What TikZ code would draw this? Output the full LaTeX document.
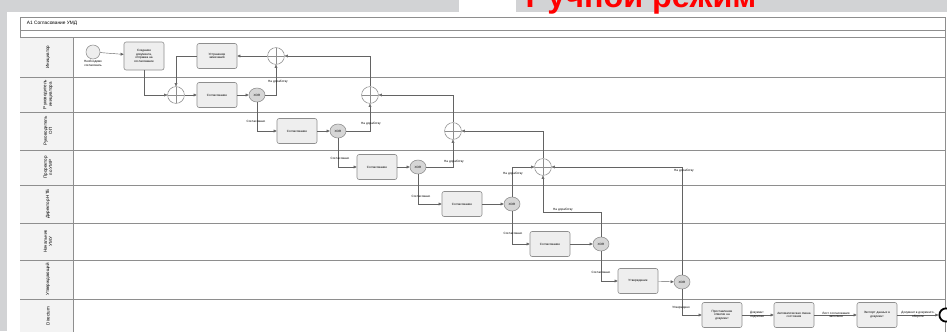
\documentclass[tikz,border=0pt]{standalone}
\usepackage{fontspec}
\setmainfont{Liberation Sans}
\usetikzlibrary{arrows.meta, positioning, shapes.geometric}
\definecolor{barGrey}{HTML}{D2D3D5}
\definecolor{lineGrey}{HTML}{8E8E8E}
\definecolor{laneGrey}{HTML}{F3F3F3}
\definecolor{taskFill}{HTML}{EEEEEE}
\definecolor{xorFill}{HTML}{D6D6D6}
\definecolor{slideRed}{HTML}{FF0000}

\tikzset{
  task/.style={rectangle, rounded corners=1.5pt, draw=lineGrey, fill=taskFill, minimum width=1cm, minimum height=0.625cm, text width=0.92cm, align=center, inner sep=0.5pt, font=\fontsize{2.2}{2.6}\selectfont},
  xorgate/.style={ellipse, draw=lineGrey, fill=xorFill, minimum width=0.4cm, minimum height=0.35cm, inner sep=0pt, font=\fontsize{2.2}{2.6}\selectfont},
  andgate/.style={circle, draw=lineGrey, fill=white, minimum size=0.42cm, inner sep=0pt,
    path picture={\draw[lineGrey] (path picture bounding box.north) -- (path picture bounding box.south)
      (path picture bounding box.west) -- (path picture bounding box.east);}},
  flow/.style={draw=lineGrey!70!black, line width=0.3pt, -{Triangle[length=2.2pt, width=2pt]}},
  lbl/.style={font=\fontsize{2.2}{2.6}\selectfont, inner sep=0.4pt, align=center},
  lanename/.style={rotate=90, font=\fontsize{3.2}{3.8}\selectfont, align=center}
}

\begin{document}
\begin{tikzpicture}[x=0.025cm, y=-0.025cm]
\useasboundingbox (0,0) rectangle (947,331);

% slide around the diagram
\fill[barGrey] (0,0) rectangle (459,12);
\fill[barGrey] (516,0) rectangle (947,12);
\fill[barGrey] (0,12) rectangle (7,331);
\node[font=\bfseries\fontsize{23}{23}\selectfont, text=slideRed, anchor=base, inner sep=0pt] (mode) at (641,7) {Ручной режим};

% pool frame and lanes
\draw[lineGrey, fill=white, line width=0.4pt] (20,17) rectangle (945,340);
\fill[laneGrey] (20,37) rectangle (73,340);
\draw[lineGrey, line width=0.4pt] (20,30) -- (945,30) (20,37) -- (945,37) (73,37) -- (73,340);
\node[font=\fontsize{3.4}{4}\selectfont, anchor=west] (pooltitle) at (22,23.5) {А1 Согласование УМД};
\foreach \y in {77,112,150,185,223,260,299}
  \draw[lineGrey, line width=0.4pt] (20,\y) -- (945,\y);

\node[lanename] (l1) at (48,57) {Инициатор};
\node[lanename] (l2) at (48,94.5) {Руководитель\\инициатора};
\node[lanename] (l3) at (48,131) {Руководитель\\ОП};
\node[lanename] (l4) at (48,167.5) {Проректор\\по УМР};
\node[lanename] (l5) at (48,204) {Директор НТБ};
\node[lanename] (l6) at (48,241.5) {Начальник\\УМУ};
\node[lanename] (l7) at (48,279.5) {Утверждающий};
\node[lanename] (l8) at (48,316) {Directum};

% Initiator
\node[circle, draw=lineGrey, fill=taskFill, minimum size=0.35cm, inner sep=0pt] (start) at (93,52) {};
\node[lbl] (startlbl) at (93,63.5) {Необходимо\\согласовать};
\node[task, minimum height=0.7cm] (create) at (144,56) {Создание\\документа,\\отправка на\\согласование};
\node[task] (fix) at (217,56) {Устранение\\замечаний};
\node[andgate] (gA) at (276,56) {};

% approvals
\node[andgate] (g1) at (176,95) {};
\node[task] (appr1) at (217,95) {Согласование};
\node[xorgate] (x1) at (257,95) {XOR};
\node[andgate] (gB) at (370,95) {};

\node[task] (appr2) at (297,131) {Согласование};
\node[xorgate] (x2) at (338,131) {XOR};
\node[andgate] (gC) at (453,131) {};

\node[task] (appr3) at (377,167) {Согласование};
\node[xorgate] (x3) at (418,167) {XOR};
\node[andgate] (gD) at (543,167) {};

\node[task] (appr4) at (462,204) {Согласование};
\node[xorgate] (x4) at (512,204) {XOR};

\node[task] (appr5) at (550,244) {Согласование};
\node[xorgate] (x5) at (601,244) {XOR};

\node[task] (sign) at (638,281) {Утверждение};
\node[xorgate] (x6) at (682,282) {XOR};

% Directum
\node[task] (mark) at (722,315) {Проставление\\отметки на\\документ};
\node[task] (state) at (794,315) {Автоматическая смена\\состояния};
\node[task] (export) at (877,315) {Экспорт данных в\\документ};
\node[circle, draw=black, line width=1.3pt, fill=white, minimum size=0.33cm, inner sep=0pt] (stop) at (946,315) {};

% flows
\draw[flow] (start) -- (create);
\draw[flow] (create.south) |- (g1.west);
\draw[flow] (fix.west) -| (g1.north);
\draw[flow] (g1) -- (appr1);
\draw[flow] (appr1) -- (x1);
\draw[flow] (x1.east) -| (gA.south);
\draw[flow] (gA) -- (fix);
\draw[flow] (gB.north) |- (gA.east);
\draw[flow] (x1.south) |- (appr2.west);
\draw[flow] (appr2) -- (x2);
\draw[flow] (x2.east) -| (gB.south);
\draw[flow] (gC.north) |- (gB.east);
\draw[flow] (x2.south) |- (appr3.west);
\draw[flow] (appr3) -- (x3);
\draw[flow] (x3.east) -| (gC.south);
\draw[flow] (gD.north) |- (gC.east);
\draw[flow] (x3.south) |- (appr4.west);
\draw[flow] (appr4) -- (x4);
\draw[flow] (x4.north) |- (gD.west);
\draw[flow] (x4.south) |- (appr5.west);
\draw[flow] (appr5) -- (x5);
\draw[flow] (x5.north) |- (543,212) -- (gD.south);
\draw[flow] (x5.south) |- (sign.west);
\draw[flow] (sign) -- (x6);
\draw[flow] (x6.north) |- (gD.east);
\draw[flow] (x6.south) |- (mark.west);
\draw[flow] (mark) -- (state);
\draw[flow] (state) -- (export);
\draw[flow] (export) -- (stop);

% flow labels
\node[lbl] (r1) at (278,82) {На доработку};
\node[lbl] (r2) at (371,124) {На доработку};
\node[lbl] (r3) at (454,162) {На доработку};
\node[lbl] (r4) at (513,174) {На доработку};
\node[lbl] (r5) at (563,210) {На доработку};
\node[lbl] (r6) at (684,170.5) {На доработку};
\node[lbl] (a1) at (256,121) {Согласовано};
\node[lbl] (a2) at (340,158) {Согласовано};
\node[lbl] (a3) at (421,196) {Согласовано};
\node[lbl] (a4) at (513,233) {Согласовано};
\node[lbl] (a5) at (601,272) {Согласовано};
\node[lbl] (a6) at (681,308) {Утверждено};
\node[lbl] (d1) at (757,315) {Документ\\подписан};
\node[lbl] (d2) at (836,315) {Лист согласования\\заполнен};
\node[lbl] (d3) at (918,315) {Документ в документо-\\обороте};
\end{tikzpicture}
\end{document}
